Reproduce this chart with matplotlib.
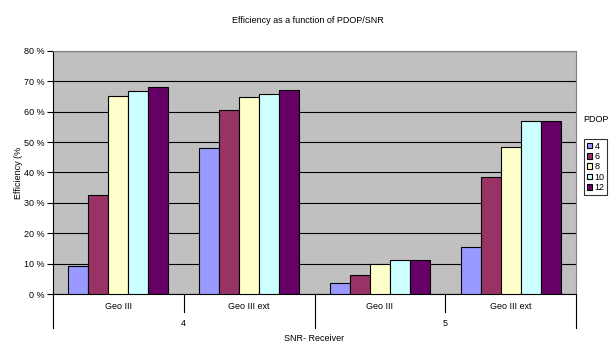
import numpy as np
import matplotlib.pyplot as plt
from matplotlib.transforms import blended_transform_factory

plt.rcParams['font.family'] = ['Liberation Sans', 'DejaVu Sans']

# data
receivers = ['Geo III', 'Geo III ext', 'Geo III', 'Geo III ext']
snr_groups = ['4', '5']
pdop = ['4', '6', '8', '10', '12']
eff_pdop4 = [9.1, 47.9, 3.5, 15.4]
eff_pdop6 = [32.5, 60.7, 6.1, 38.4]
eff_pdop8 = [65.3, 64.7, 9.8, 48.3]
eff_pdop10 = [66.9, 66.0, 11.1, 56.9]
eff_pdop12 = [68.3, 67.3, 11.1, 57.1]
series = [eff_pdop4, eff_pdop6, eff_pdop8, eff_pdop10, eff_pdop12]
colors = ['#9999FF', '#993366', '#FFFFCC', '#CCFFFF', '#660066']

fig = plt.figure(figsize=(6.15, 3.59), dpi=100)
ax = fig.add_axes([0.0862, 0.181, 0.8504, 0.677])
ax.set_facecolor('#C0C0C0')

x = np.arange(len(receivers)) + 0.5
w = 0.153
for i, (vals, c) in enumerate(zip(series, colors)):
    ax.bar(x + (i - 2) * w, vals, w, color=c, edgecolor='black', linewidth=0.8,
           label=pdop[i], zorder=3)

ax.set_xlim(0, len(receivers))
ax.set_ylim(0, 80)
ax.set_yticks(range(0, 81, 10))
ax.set_yticklabels([f'{v} %' for v in range(0, 81, 10)], fontsize=6.5)
ax.yaxis.grid(True, color='black', linewidth=0.8, zorder=1)
ax.tick_params(axis='y', length=4, width=0.8, pad=2)
for s in ['top', 'right']:
    ax.spines[s].set_color('#808080')
ax.spines['left'].set_linewidth(0.8)
ax.spines['bottom'].set_linewidth(0.8)

# multi-level category axis
ax.set_xticks(x)
ax.set_xticklabels(receivers, fontsize=6.5)
ax.tick_params(axis='x', length=0, pad=6)
tr = blended_transform_factory(ax.transData, ax.transAxes)
for b in range(len(receivers) + 1):
    low = -0.14 if b % 2 == 0 else -0.074
    ax.plot([b, b], [0, low], color='black', lw=0.8, transform=tr, clip_on=False)
for j, g in enumerate(snr_groups):
    ax.text(2 * j + 1, -0.123, g, transform=tr, ha='center', va='center', fontsize=6.5)
ax.text(2, -0.185, 'SNR- Receiver', transform=tr, ha='center', va='center', fontsize=6.5)
ax.set_ylabel('Efficiency (%', fontsize=6.5, labelpad=1)

fig.text(0.5, 0.944, 'Efficiency as a function of PDOP/SNR', ha='center', va='center', fontsize=6.5)
fig.text(0.948, 0.666, 'PDOP', ha='left', va='center', fontsize=6.5)
leg = ax.legend(loc='upper left', bbox_to_anchor=(1.015, 0.638), fontsize=6.5,
                frameon=True, fancybox=False, edgecolor='black', handlelength=0.6,
                handleheight=0.6, handletextpad=0.3, borderpad=0.3, labelspacing=0.15,
                borderaxespad=0)
leg.get_frame().set_linewidth(0.8)

fig.savefig('out.png', dpi=100)
